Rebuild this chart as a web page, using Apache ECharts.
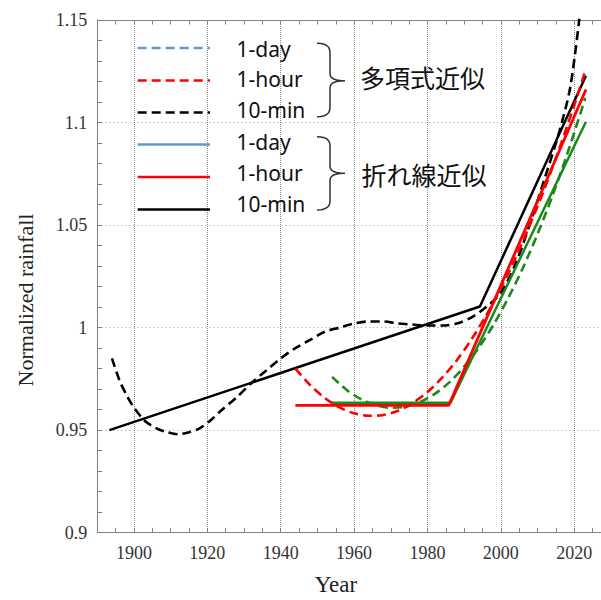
<!DOCTYPE html>
<html><head><meta charset="utf-8">
<script src="https://cdn.jsdelivr.net/npm/echarts@6/dist/echarts.min.js"></script>
<style>html,body{margin:0;padding:0;background:#fff}#c{width:601px;height:600px}</style>
</head><body><div id="c"></div>
<script>
// ---------------- data ----------------
const xLabelYears = [1900, 1920, 1940, 1960, 1980, 2000, 2020];
const legendLabels = ['1-day', '1-hour', '10-min'];
const methodLabels = ['多項式近似', '折れ線近似'];

// polynomial fits (dashed)
const poly10minYears = [1894,1896,1898,1900,1903,1906,1909,1912,1915,1918,1921,1924,1928,1932,1936,1940,1944,1948,1952,1956,1960,1964,1968,1972,1976,1980,1984,1988,1992,1996,2000,2004,2008,2012,2016,2019,2022];
const poly10minValues = [0.985,0.9745,0.967,0.961,0.9545,0.951,0.949,0.948,0.949,0.951,0.955,0.960,0.966,0.973,0.979,0.985,0.990,0.994,0.998,1.000,1.002,1.003,1.003,1.002,1.0015,1.001,1.001,1.002,1.005,1.010,1.017,1.031,1.051,1.073,1.096,1.118,1.160];

const poly1hourYears = [1944,1948,1952,1956,1960,1964,1968,1972,1976,1980,1984,1988,1992,1996,2000,2004,2008,2012,2016,2020,2023];
const poly1hourValues = [0.980,0.972,0.9657,0.9611,0.9582,0.9570,0.9574,0.9595,0.9633,0.9686,0.9756,0.9841,0.9943,1.0060,1.0192,1.0340,1.0504,1.0682,1.0876,1.1084,1.1250];

const poly1dayYears = [1954,1958,1962,1966,1970,1974,1978,1982,1986,1990,1994,1998,2002,2006,2010,2014,2018,2022,2023];
const poly1dayValues = [0.976,0.9696,0.9650,0.9621,0.9609,0.9614,0.9637,0.9677,0.9734,0.9810,0.9903,1.0014,1.0144,1.0291,1.0456,1.0640,1.0842,1.1062,1.1120];

// piecewise-linear fits (solid)
const pw10minYears = [1893.3, 1994.3, 2023.2];
const pw10minValues = [0.950, 1.0103, 1.1228];
const pw1hourYears = [1944, 1985.8, 2023.2];
const pw1hourValues = [0.9621, 0.9621, 1.1161];
const pw1dayYears = [1954, 1986.3, 2023.2];
const pw1dayValues = [0.9634, 0.9634, 1.1004];

// ---------------- styles ----------------
const C_BLACK = '#000000', C_RED = '#ff0000', C_GREEN = '#1a8a1a', C_BLUE = '#6496cf';
const AX = '#808080';
const GRIDC = '#9a9a9a';
const SERIF = '"Liberation Serif","Times New Roman",serif';
const DASH = [9, 5];

function zip(xs, ys) { return xs.map((x, i) => [x, ys[i]]); }

const chart = echarts.init(document.getElementById('c'), null, {renderer: 'svg'});

const G = {left: 97.3, top: 20, width: 503.7, height: 512.7};

function lineSeries(name, xs, ys, color, dashed, width, z) {
  return {
    name, type: 'line', data: zip(xs, ys), showSymbol: false, symbol: 'none',
    smooth: dashed ? 0.3 : false, clip: true, z: z,
    lineStyle: {color, width, type: dashed ? DASH : 'solid'},
    emphasis: {disabled: true}, silent: true, animation: false
  };
}

// legend graphics (decoration)
const legendLineY = [48, 80.5, 112.5, 144.5, 177, 209.5];
const legendTextY = [48.5, 79, 109.5, 141.5, 173, 203.5];
const legendColors = [C_BLUE, C_RED, C_BLACK, C_BLUE, C_RED, C_BLACK];
const graphics = [];
for (let i = 0; i < 6; i++) {
  graphics.push({
    type: 'line', z: 50,
    shape: {x1: 137.7, y1: legendLineY[i], x2: 210, y2: legendLineY[i]},
    style: {stroke: legendColors[i], lineWidth: 2.5, lineDash: i < 3 ? DASH : null}
  });
  graphics.push({
    type: 'text', z: 50, x: 236.5, y: legendTextY[i],
    style: {text: legendLabels[i % 3], font: '21px "Noto Sans","Open Sans",sans-serif', fill: '#111',
            align: 'left', textAlign: 'left', verticalAlign: 'middle', textVerticalAlign: 'middle'}
  });
}
// brace "}" drawn as polyline (quadratic corners sampled)
function quad(p0, c, p1, out) {
  for (let k = 1; k <= 6; k++) {
    const t = k / 6, a = (1 - t) * (1 - t), b = 2 * (1 - t) * t, d = t * t;
    out.push([a * p0[0] + b * c[0] + d * p1[0], a * p0[1] + b * c[1] + d * p1[1]]);
  }
}
function bracePoints(y0, ym, y1) {
  const pts = [[317, y0]];
  quad([317, y0], [330, y0], [330, y0 + 9], pts);
  pts.push([330, ym - 7]);
  quad([330, ym - 7], [330, ym], [345, ym], pts);
  quad([345, ym], [330, ym], [330, ym + 7], pts);
  pts.push([330, y1 - 9]);
  quad([330, y1 - 9], [330, y1], [317, y1], pts);
  return pts;
}
graphics.push({type: 'polyline', z: 50, shape: {points: bracePoints(43.3, 80.7, 116.7)}, style: {stroke: '#333', fill: null, lineWidth: 1.5}});
graphics.push({type: 'polyline', z: 50, shape: {points: bracePoints(136.7, 173.3, 210)}, style: {stroke: '#333', fill: null, lineWidth: 1.5}});
graphics.push({type: 'text', z: 50, x: 360, y: 77, style: {text: methodLabels[0], font: '25px "Noto Sans CJK JP",sans-serif', fill: '#111', align: 'left', textAlign: 'left', verticalAlign: 'middle', textVerticalAlign: 'middle'}});
graphics.push({type: 'text', z: 50, x: 361.5, y: 174, style: {text: methodLabels[1], font: '25px "Noto Sans CJK JP",sans-serif', fill: '#111', align: 'left', textAlign: 'left', verticalAlign: 'middle', textVerticalAlign: 'middle'}});
// axis titles
graphics.push({type: 'text', z: 50, x: 25, y: 300, rotation: Math.PI / 2, style: {text: 'Normalized rainfall', font: '22px ' + SERIF, fill: '#222', align: 'center', textAlign: 'center', verticalAlign: 'middle', textVerticalAlign: 'middle'}});
graphics.push({type: 'text', z: 50, x: 336, y: 584, style: {text: 'Year', font: '23px ' + SERIF, fill: '#222', align: 'center', textAlign: 'center', verticalAlign: 'middle', textVerticalAlign: 'middle'}});

const option = {
  animation: false,
  backgroundColor: '#ffffff',
  grid: G,
  xAxis: [
    { // main axis: nice 20-year steps -> labels + dotted grid lines
      type: 'value', position: 'bottom', min: 1890, max: 2027.3,
      splitNumber: 7, minInterval: 20, maxInterval: 20,
      axisLine: {show: true, lineStyle: {color: AX, width: 1}},
      axisTick: {show: false},
      axisLabel: {show: true, margin: 11, color: '#333', fontFamily: SERIF, fontSize: 18,
        showMinLabel: false, showMaxLabel: false,
        formatter: v => (xLabelYears.indexOf(Math.round(v)) >= 0 ? String(Math.round(v)) : '')},
      splitLine: {show: true, lineStyle: {color: '#8a8a8a', width: 1, type: 'dotted'}}
    },
    { // bottom ticks every 5 years
      type: 'value', position: 'bottom', min: 1890, max: 2027.3, interval: 5,
      axisLine: {show: false},
      axisTick: {show: true, inside: true, length: 4.5, lineStyle: {color: AX}},
      axisLabel: {show: false}, splitLine: {show: false}
    },
    { // top frame
      type: 'value', position: 'top', min: 1890, max: 2027.3, interval: 5,
      axisLine: {show: true, lineStyle: {color: AX, width: 1}},
      axisTick: {show: true, inside: true, length: 4.5, lineStyle: {color: AX}},
      axisLabel: {show: false}, splitLine: {show: false}
    }
  ],
  yAxis: [{
    type: 'value', min: 0.9, max: 1.15, interval: 0.05,
    axisLine: {show: true, lineStyle: {color: AX, width: 1}},
    axisTick: {show: true, inside: true, length: 5, lineStyle: {color: AX}},
    minorTick: {show: true, splitNumber: 5, length: 5, lineStyle: {color: AX}},
    axisLabel: {margin: 10, color: '#333', fontFamily: SERIF, fontSize: 18, padding: [0, 0, 3, 0]},
    splitLine: {show: true, lineStyle: {color: GRIDC, width: 1, type: [1, 3]}},
    minorSplitLine: {show: false}
  }],
  graphic: graphics,
  series: [
    lineSeries('10-min poly', poly10minYears, poly10minValues, C_BLACK, true, 2.6, 3),
    lineSeries('10-min piecewise', pw10minYears, pw10minValues, C_BLACK, false, 2.5, 4),
    lineSeries('1-day poly', poly1dayYears, poly1dayValues, C_GREEN, true, 2.6, 5),
    lineSeries('1-day piecewise', pw1dayYears, pw1dayValues, C_GREEN, false, 2.5, 6),
    lineSeries('1-hour poly', poly1hourYears, poly1hourValues, C_RED, true, 2.6, 7),
    lineSeries('1-hour piecewise', pw1hourYears, pw1hourValues, C_RED, false, 2.8, 8)
  ]
};
chart.setOption(option);
</script>
</body></html>
